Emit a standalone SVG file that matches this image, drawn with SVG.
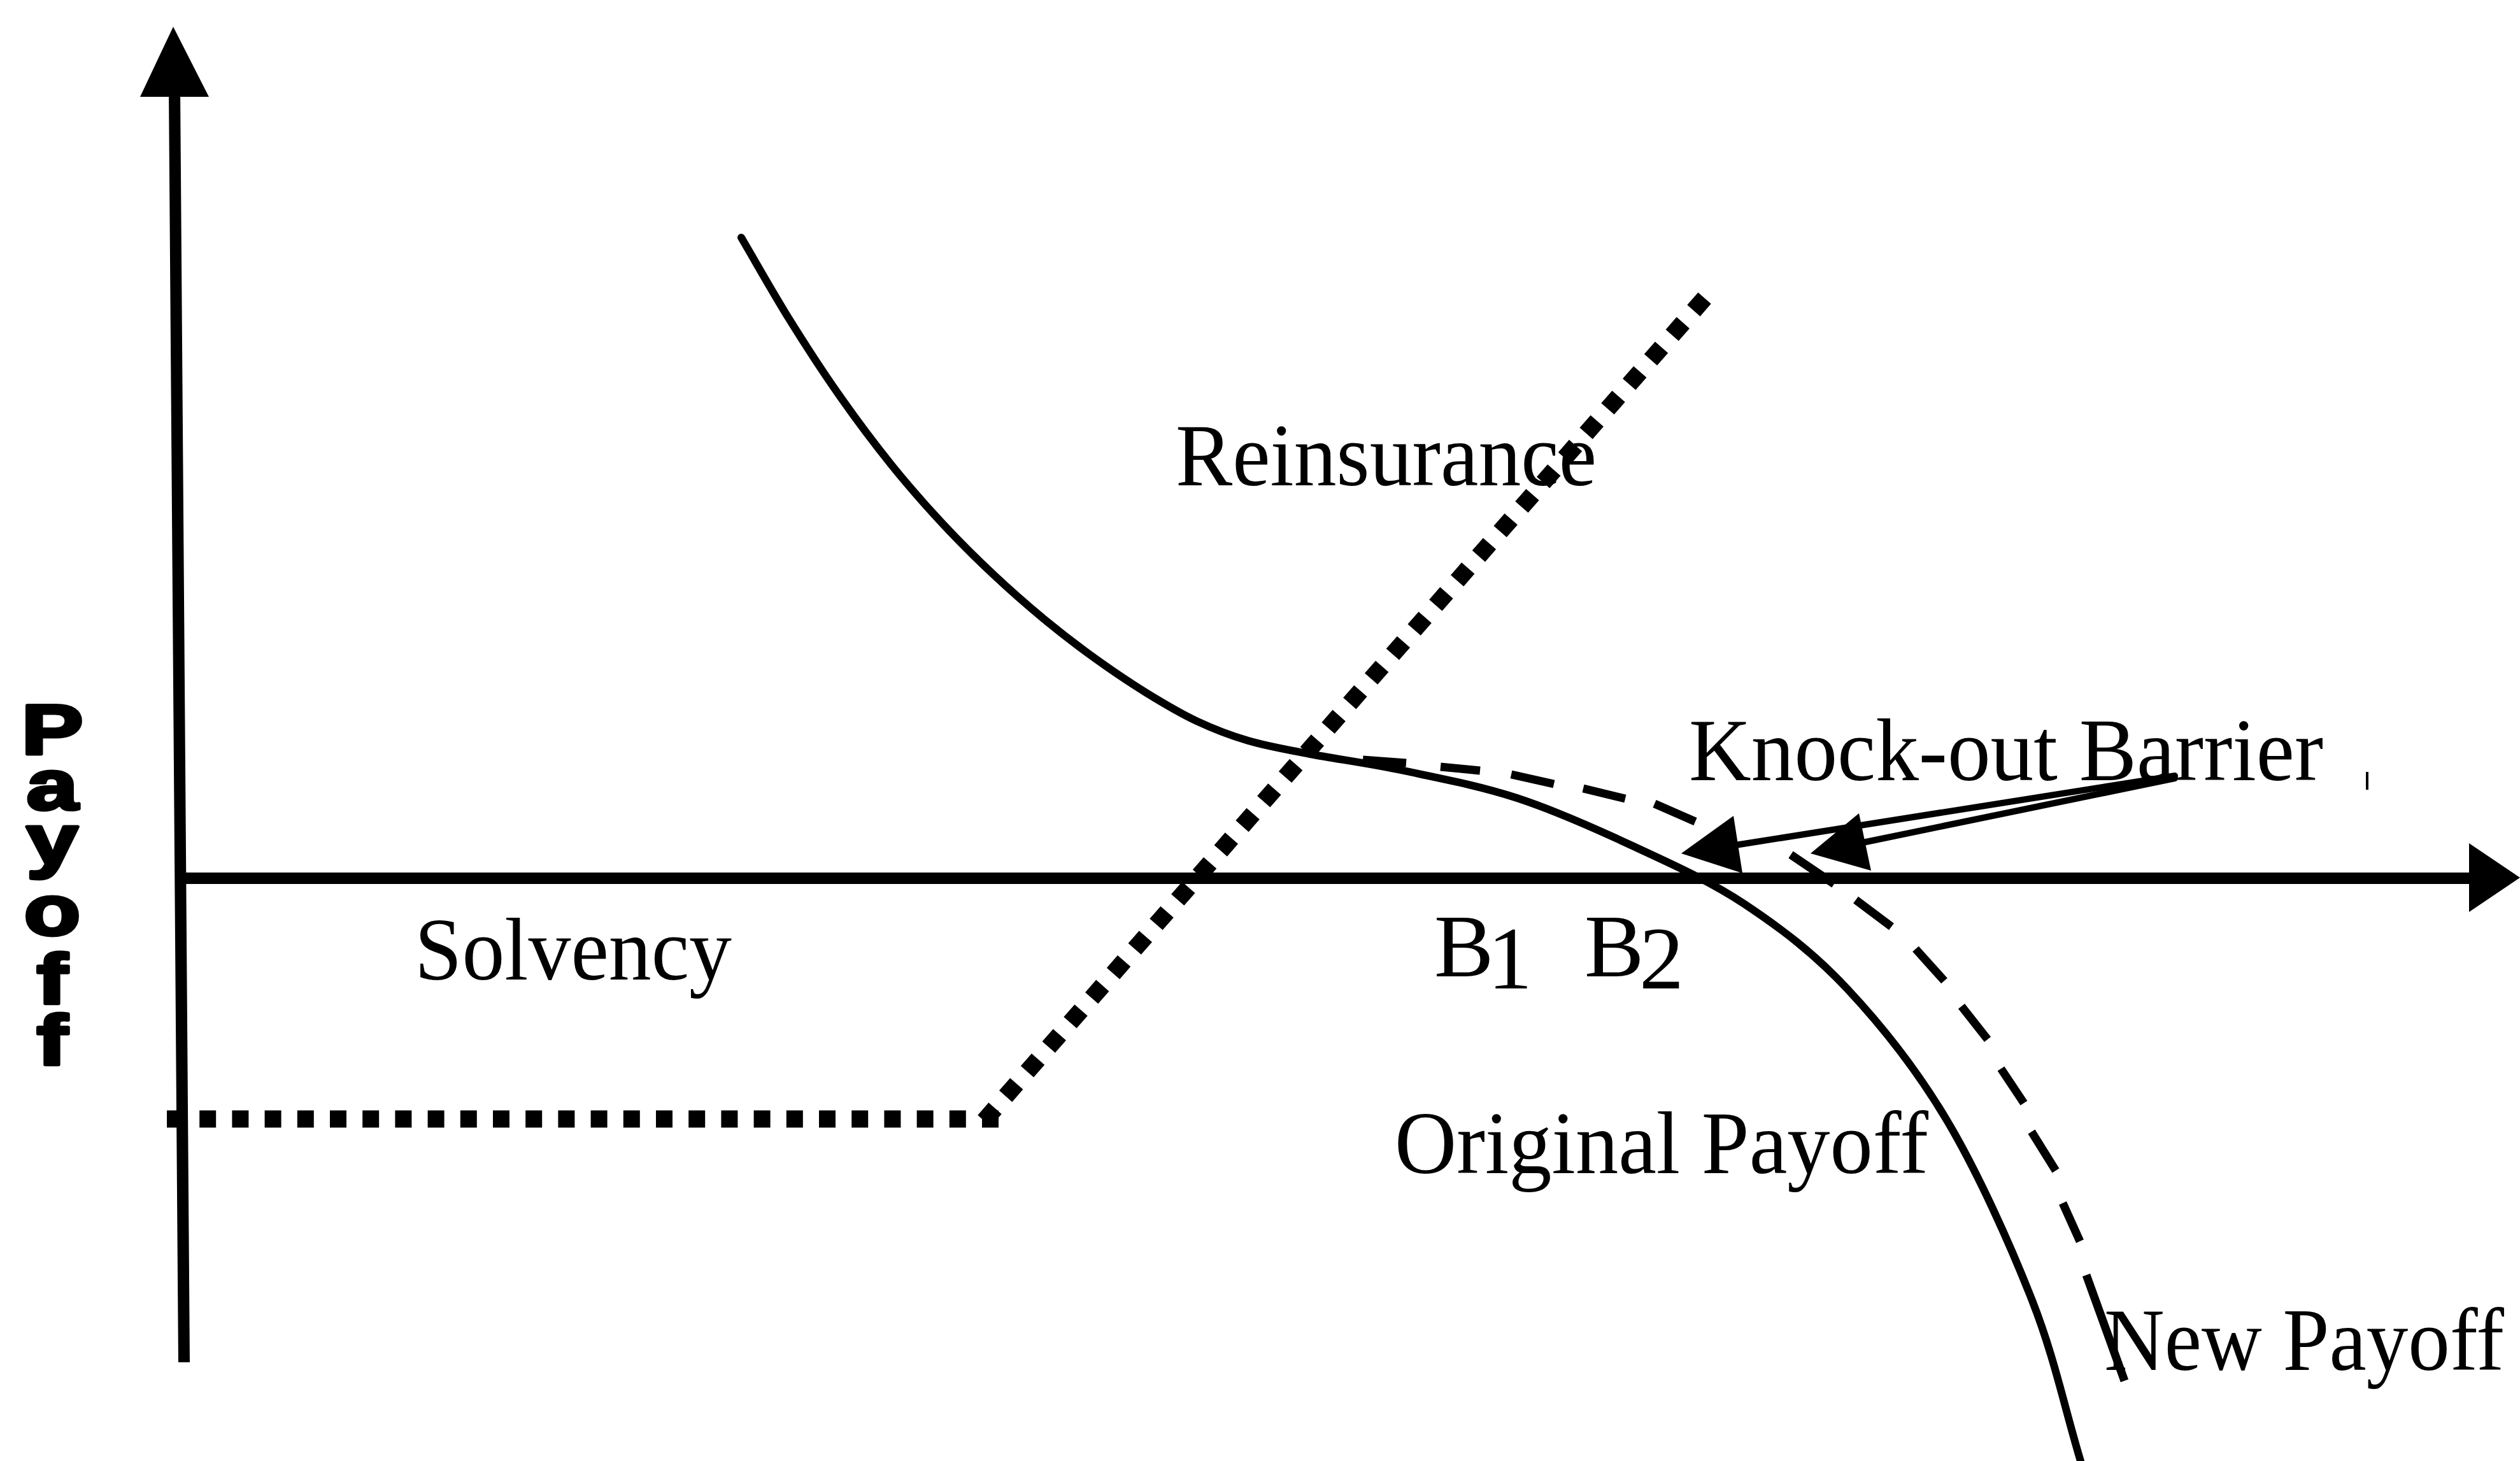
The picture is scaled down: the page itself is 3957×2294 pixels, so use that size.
<svg xmlns="http://www.w3.org/2000/svg" width="3957" height="2294" viewBox="0 0 3957 2294">
<style>
.axis{stroke:#000;stroke-width:18;fill:none;stroke-linecap:butt}
.solid{stroke:#000;stroke-width:12;fill:none;stroke-linejoin:round;stroke-linecap:round}
.dash{stroke:#000;stroke-width:13;fill:none;stroke-linecap:butt}
.dot{stroke:#000;stroke-width:27;fill:none;stroke-linecap:butt}
.shaft{stroke:#000;stroke-width:10;fill:none;stroke-linecap:round}
.head{fill:#000;stroke:none}
.lbl{font-family:"Liberation Serif","Times New Roman",serif;font-size:140px;fill:#000}
.ylbl{font-family:"Liberation Sans",Arial,sans-serif;font-weight:bold;font-size:112px;fill:#000;stroke:#000;stroke-width:5;stroke-linejoin:round}
</style>
<rect width="3957" height="2294" fill="#fff"/>
<g id="axes">
  <line class="axis" x1="289" y1="2139" x2="274" y2="140"/>
  <polygon class="head" points="272,42 328,152 220,152"/>
  <line class="axis" x1="281" y1="1379" x2="3880" y2="1379"/>
  <polygon class="head" points="3957,1378 3877,1324 3877,1432"/>
</g>
<g id="y-label">
  <g transform="translate(82,0) scale(1.3,1)">
    <text class="ylbl" text-anchor="middle"><tspan x="0" y="1184">P</tspan><tspan x="0" y="1271">a</tspan><tspan x="0" y="1357">y</tspan><tspan x="0" y="1468">o</tspan><tspan x="0" y="1576">f</tspan><tspan x="0" y="1672">f</tspan></text>
  </g>
</g>
<g id="reinsurance-line">
  <path class="dot" d="M262,1757 H1568" stroke-dasharray="26 25.2"/>
  <path class="dot" d="M1545.4,1759.8 L2676.6,468.2" stroke-dasharray="26 25.24"/>
</g>
<g id="original-payoff-curve">
  <path class="solid" d="M1164,373 C1189.3,416.1 1214,460.4 1240,502.2 C1266,544 1293.3,585.8 1320,623.8 C1346.7,661.8 1373.3,697.1 1400,730.2 C1426.7,763.3 1453.3,793.5 1480,822.2 C1506.7,850.9 1533.3,877.1 1560,902.2 C1586.7,927.3 1613.3,950.6 1640,972.6 C1666.7,994.6 1693.3,1015 1720,1034.2 C1746.7,1053.4 1773.3,1071.4 1800,1087.8 C1826.7,1104.2 1853.3,1120.1 1880,1132.6 C1906.7,1145.1 1930.5,1154.4 1960,1163 C1989.5,1171.6 2016.3,1176.2 2057,1184 C2097.7,1191.8 2149.8,1198.5 2204,1210 C2258.2,1221.5 2322.5,1233.5 2382,1253 C2441.5,1272.5 2501.3,1299.2 2561,1327 C2620.7,1354.8 2683.5,1382.3 2740,1420 C2796.5,1457.7 2847.2,1495.7 2900,1552 C2952.8,1608.3 3008.5,1677.5 3057,1759 C3105.5,1840.5 3156,1952.8 3191,2042 C3226,2131.2 3241.7,2210 3267,2294"/>
</g>
<g id="new-payoff-curve">
  <path class="dash" d="M2140,1193 L2208,1198 M2262,1204 L2324,1210 M2373,1216 L2440,1231 M2486,1238 L2552,1254 M2598,1262 L2662,1290 M2812,1342 L2880,1388 M2914,1413 L2970,1455 M3008,1490 L3053,1540 M3080,1580 L3121,1632 M3142,1678 L3178,1732 M3190,1777 L3228,1838 M3239,1889 L3266,1949 M3276,2002 L3336,2168"/>
</g>
<g id="knockout-arrows">
  <line class="shaft" x1="3415" y1="1218" x2="2725" y2="1327"/>
  <polygon class="head" points="2640,1340 2722,1281 2736,1371"/>
  <line class="shaft" x1="3415" y1="1222" x2="2925" y2="1323"/>
  <polygon class="head" points="2843,1340 2919,1277 2938,1367"/>
  <line x1="3717" y1="1212" x2="3717" y2="1240" stroke="#000" stroke-width="4"/>
</g>
<g id="labels">
  <text class="lbl" x="1846" y="762" textLength="661" lengthAdjust="spacingAndGlyphs">Reinsurance</text>
  <text class="lbl" x="2652" y="1225" textLength="996" lengthAdjust="spacingAndGlyphs">Knock-out Barrier</text>
  <text class="lbl" x="651" y="1538" textLength="498" lengthAdjust="spacingAndGlyphs">Solvency</text>
  <text class="lbl" x="2252" y="1533" font-size="135">B</text>
  <text class="lbl" x="2336" y="1552" font-size="88">1</text>
  <text class="lbl" x="2488" y="1533" font-size="135">B</text>
  <text class="lbl" x="2574" y="1552" font-size="88">2</text>
  <text class="lbl" x="2190" y="1842" textLength="838" lengthAdjust="spacingAndGlyphs">Original Payoff</text>
  <text class="lbl" x="3304" y="2151" font-size="126" textLength="628" lengthAdjust="spacingAndGlyphs">New Payoff</text>
</g>
</svg>
